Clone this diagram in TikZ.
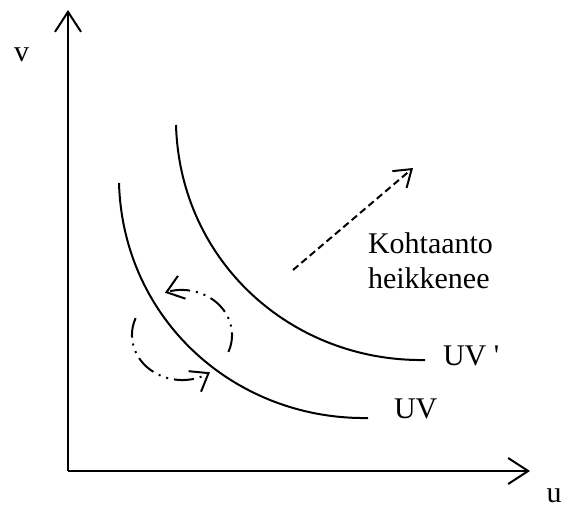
\documentclass[tikz,border=0pt]{standalone}
\usepackage{fontspec}
\setmainfont{Liberation Serif}
\usetikzlibrary{arrows.meta,positioning}

\begin{document}
\begin{tikzpicture}[x=1pt,y=-1pt,line width=2pt,
  every node/.style={font=\fontsize{30}{35}\selectfont,inner sep=0pt},
  axis/.style={-{Straight Barb[length=20pt,width=26pt]}},
  shiftarrow/.style={dash pattern=on 7pt off 4pt,-{Straight Barb[length=16pt,width=22pt]}},
  cyclearrow/.style={dash pattern=on 20pt off 6pt on 2pt off 6pt on 2pt off 6pt,-{Straight Barb[length=16pt,width=24pt]}}]
\useasboundingbox (0,0) rectangle (565,511);
\coordinate (origin) at (68,471);
\coordinate (vtip) at (68,10);
\coordinate (utip) at (530,471);
\draw[axis] (origin) -- (vtip);
\draw[axis] (origin) -- (utip);
\node[anchor=base] (v) at (21.5,62) {v};
\node[anchor=base] (u) at (554,502) {u};

\coordinate (uvtop) at (119,183);
\coordinate (uvend) at (368,418);
\coordinate (uv2top) at (176,125);
\coordinate (uv2end) at (425,360);
\draw (uvtop) .. controls (123,320) and (235,420) .. (uvend);
\draw (uv2top) .. controls (180,262) and (292,362) .. (uv2end);
\node[anchor=base west] (uv) at (393,418) {UV};
\node[anchor=base west] (uv2) at (442,365) {UV \textquotesingle};

\coordinate (shiftfrom) at (293,270);
\coordinate (shiftto) at (413,168);
\draw[shiftarrow] (shiftfrom) -- (shiftto);
\node[anchor=base west] (kohtaanto) at (367,253) {Kohtaanto};
\node[anchor=base west] (heikkenee) at (367,288) {heikkenee};

\coordinate (cycleright) at (228.4,351.9);
\coordinate (cycleleft) at (135.6,318.1);
\draw[cyclearrow] (cycleright) arc[start angle=22,end angle=-110,x radius=50,y radius=45];
\draw[cyclearrow] (cycleleft) arc[start angle=202,end angle=56,x radius=50,y radius=45];
\end{tikzpicture}
\end{document}
